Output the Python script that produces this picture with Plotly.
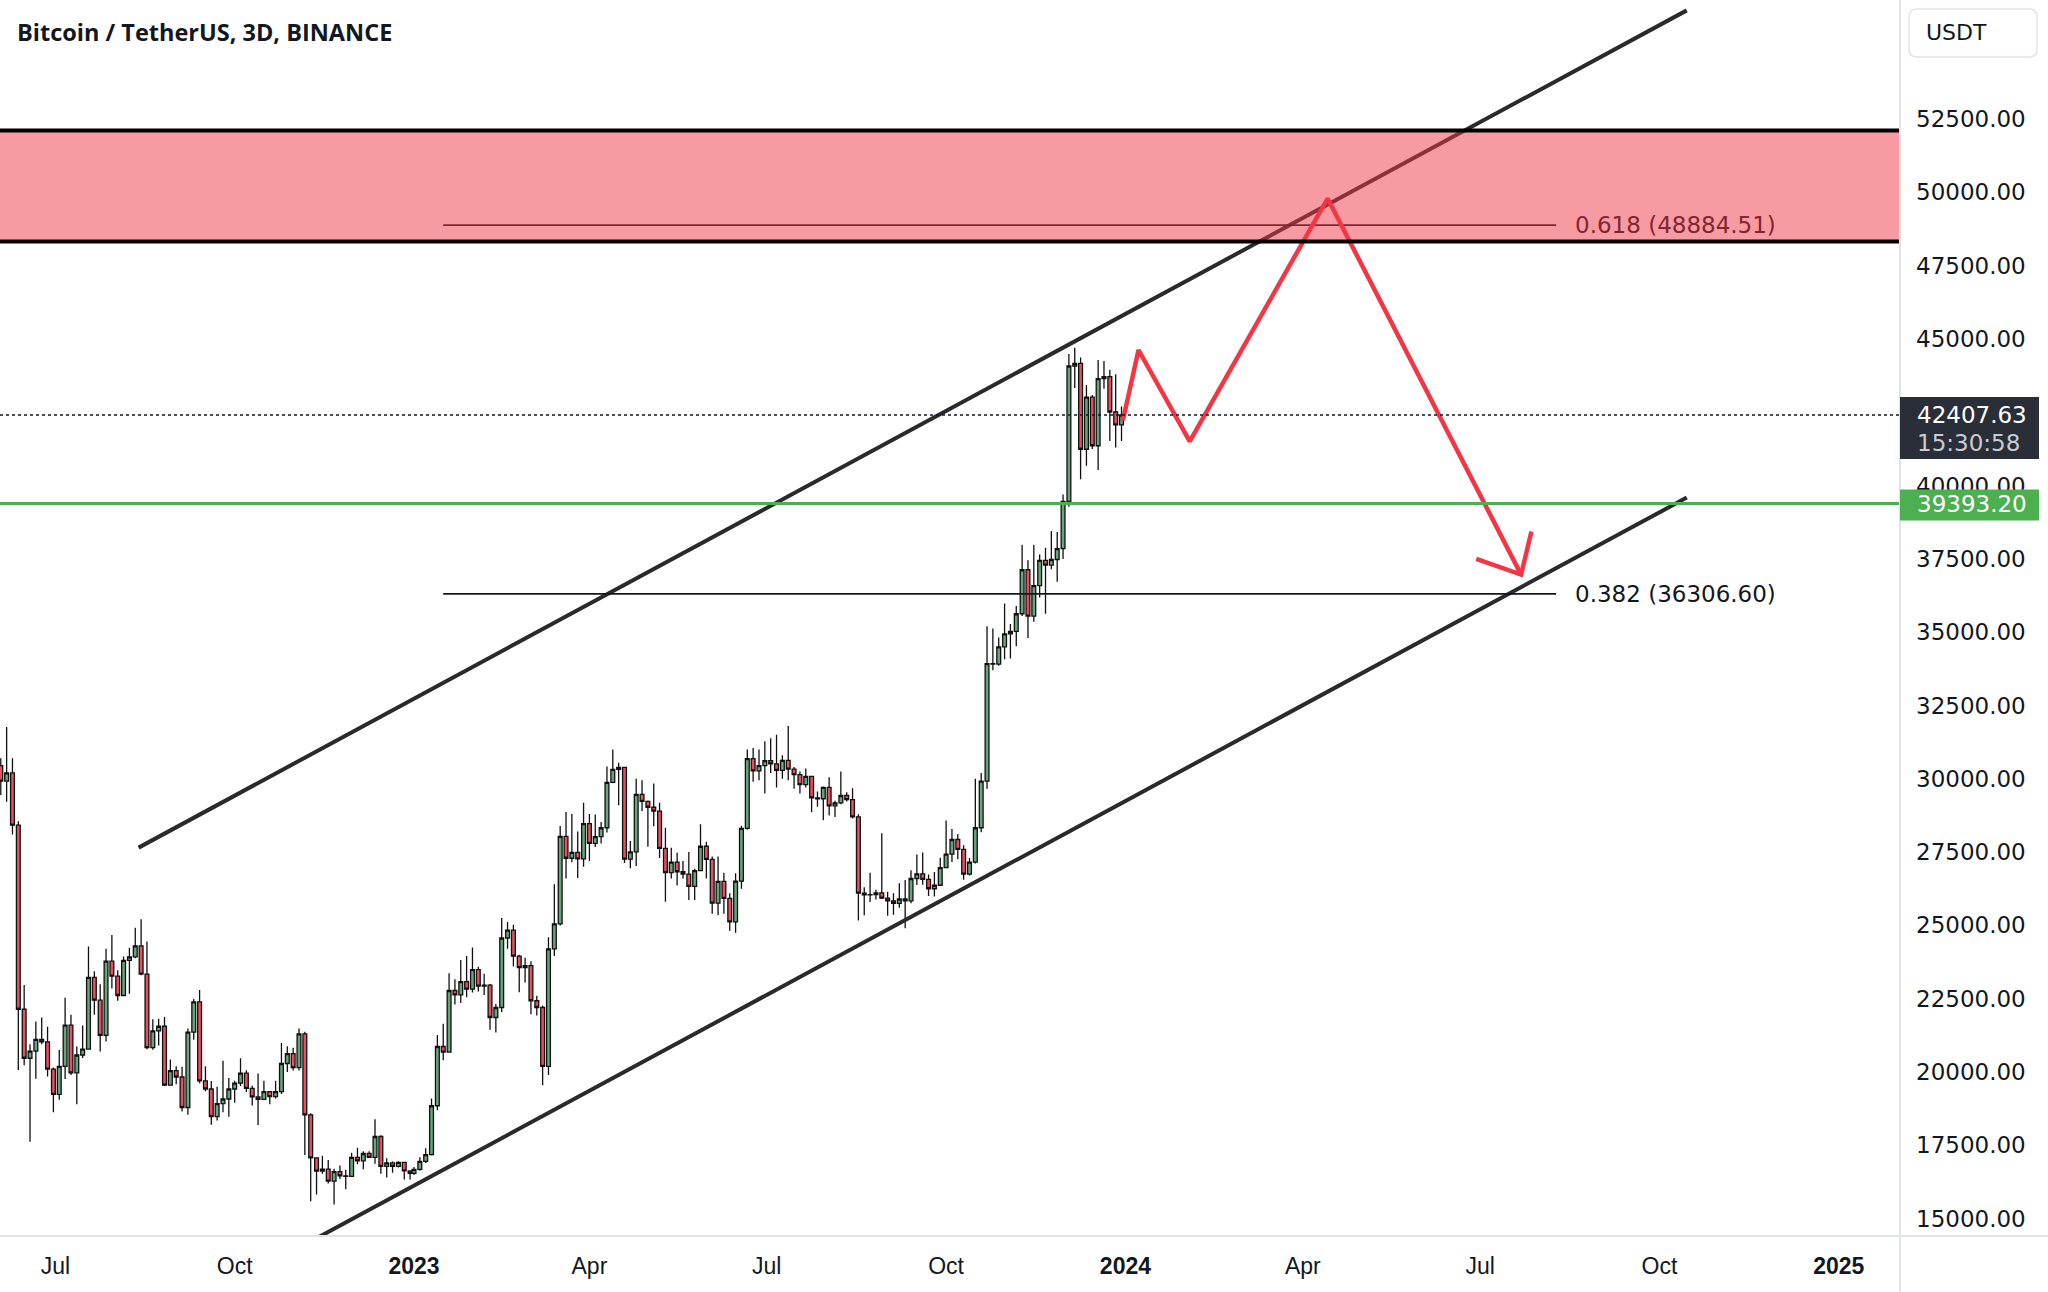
import pandas as pd
import plotly.graph_objects as go

# ---------------- data: BTCUSDT 3D candles (bars restart on Jan 1 each year) -------------
dates_2022 = pd.date_range("2022-05-31", "2022-12-30", freq="3D")
dates_2023 = pd.date_range("2023-01-01", "2023-12-30", freq="3D")

open_2022 = [31790,30450,29920,30200,28420,22140,20470,20710,21110,21030,20100,19240,20190,21600,19970,
             20580,20780,23230,22450,21250,23780,23270,22610,23810,23930,24300,23340,20830,21400,21560,
             19550,20050,19830,18790,21360,22390,19700,19420,18480,18920,19080,19420,19620,19960,19440,
             19150,19070,19330,19160,19330,20290,20630,20150,21300,18540,17070,16620,16690,16280,16600,
             16460,16440,17090,16970,17220,17090,17800,16780,16900,16780,16920,16630]
high_2022 = [32400,30700,31765,30700,28550,22970,20950,21720,21860,21540,20150,20750,22530,21950,20870,
             21590,24280,23440,22990,24200,24670,23470,23940,24240,24920,25210,24450,21800,21820,21880,
             20430,20200,20180,21480,22490,22800,20200,19690,19500,20380,19800,19700,20470,20060,19530,
             19950,19700,19350,19700,20990,20880,20830,21480,21370,18590,17090,17140,17000,16700,16810,
             16670,17250,17420,17300,17300,18390,17840,17060,16950,16960,16940,16640]
low_2022 = [29300,29450,29220,28100,20070,20230,17622,19770,20950,19850,18630,19050,19760,19900,18900,
            20480,20760,21950,20700,21040,22850,22430,22590,22670,23880,23300,20780,20760,20900,19520,
            19530,19580,18650,18540,21100,19620,19340,18200,18350,18630,18470,18950,19520,19320,18860,
            18190,19060,18900,19100,19250,20000,20050,20050,17170,15590,15820,16530,16200,15480,16350,
            16000,16430,16860,16680,17070,16870,16530,16400,16560,16740,16330,16330]
close_2022 = [30450,29920,30200,28420,22140,20470,20710,21110,21030,20100,19240,20190,21600,19970,20580,
              20780,23230,22450,21250,23780,23270,22610,23810,23930,24300,23340,20830,21400,21560,19550,
              20050,19830,18790,21360,22390,19700,19420,18480,18920,19080,19420,19620,19960,19440,19150,
              19070,19330,19160,19330,20290,20630,20150,21300,18540,17070,16620,16690,16280,16600,16460,
              16440,17090,16970,17220,17090,17800,16780,16900,16780,16920,16630,16540]

open_2023 = [16540,16680,16950,17180,18850,20870,20680,22780,22630,23080,
             22830,23490,22930,22960,21860,22200,24570,24840,23950,23560,
             23630,22430,22200,20190,24200,25050,28040,27290,27490,27270,
             28470,27800,28030,28330,29880,30320,30390,27260,27510,29470,
             29230,29030,28900,27630,26800,27160,26830,26750,26330,26870,
             27700,27250,25760,26500,25920,25120,26510,28310,30690,30270,
             30450,30620,30510,30290,30630,30330,30140,29800,30080,29350,
             29320,29710,29080,29180,29430,29290,28700,26100,26040,26050,
             26110,25930,25840,25750,25900,25840,26600,26760,26570,26250,
             26370,26970,27430,27930,27590,26750,27160,28330,29920,33930,
             33910,34500,34940,35030,35630,37130,35550,36590,37450,37290,
             37480,37850,39460,44080,44170,41240,43020,41360,43650,43720,
             42510,42070]
high_2023 = [16760,17090,17400,19100,21260,21650,23370,23160,23820,23960,
             24250,23590,23350,23000,22320,25250,25120,25020,24000,23900,
             23780,22600,22270,24600,26400,28390,28870,28800,28200,29180,
             28800,28780,28530,30420,31000,30550,30410,27880,30000,29950,
             29260,29840,29180,28330,27650,27480,27200,27500,26930,28450,
             27850,27350,27350,26800,26100,26780,28400,31000,31050,31000,
             31280,31380,31500,30800,31800,30400,30250,30350,30100,29570,
             29740,30050,29250,30250,29540,29680,28790,26300,26800,26220,
             28140,26150,26100,26440,26550,26880,27420,27490,26740,26820,
             27310,28580,28290,28120,27730,27300,30000,30200,35200,35130,
             34820,35980,35280,35890,37980,37450,37980,37650,37880,38450,
             38420,39700,44490,44700,44370,43430,43090,44280,44250,43950,
             43800,42700]
low_2023 = [16490,16630,16900,17150,18700,20400,20660,22300,22350,22550,
            22710,22750,22630,21440,21350,22050,24200,23600,22720,23050,
            21970,21930,19550,19900,23960,25000,26600,27150,26620,27000,
            27200,27670,27790,28170,29850,29100,27130,26950,27030,28900,
            27680,28380,27300,25810,26600,26360,26600,25870,25870,26860,
            26600,25400,25350,25400,24820,24750,26250,28260,29900,29950,
            29500,30200,29700,30000,29950,29660,29500,29700,28860,29050,
            28590,28750,28700,29130,29230,28650,25170,25350,25800,25880,
            25900,25330,25360,25600,24900,25760,26380,26390,26000,25990,
            26350,26960,27160,27260,26560,26700,27110,28180,29660,33700,
            33860,34080,34100,34520,35550,34800,35360,36180,35630,37150,
            36720,37500,39280,43330,40220,40680,41250,40530,43300,41520,
            41300,41520]
close_2023 = [16680,16950,17180,18850,20870,20680,22780,22630,23080,22830,
              23490,22930,22960,21860,22200,24570,24840,23950,23560,23630,
              22430,22200,20190,24200,25050,28040,27290,27490,27270,28470,
              27800,28030,28330,29880,30320,30390,27260,27510,29470,29230,
              29030,28900,27630,26800,27160,26830,26750,26330,26870,27700,
              27250,25760,26500,25920,25120,26510,28310,30690,30270,30450,
              30620,30510,30290,30630,30330,30140,29800,30080,29350,29320,
              29710,29080,29180,29430,29290,28700,26100,26040,26050,26110,
              25930,25840,25750,25900,25840,26600,26760,26570,26250,26370,
              26970,27430,27930,27590,26750,27160,28330,29920,33930,33910,
              34500,34940,35030,35630,37130,35550,36590,37450,37290,37480,
              37850,39460,44080,44170,41240,43020,41360,43650,43720,42510,
              42070,42407.63]

# drawings (date, price)
channel_upper_x = ["2022-08-12 17:00", "2024-10-15"]
channel_upper_y = [27653, 56208]
channel_lower_x = ["2022-11-12", "2024-10-15"]
channel_lower_y = [14330, 39591]
path_x = ["2023-12-30 17:00", "2024-01-07 17:00", "2024-02-03", "2024-04-13 18:00", "2024-07-22"]
path_y = [42220, 44625, 41507, 49792, 36964]
head_x = ["2024-06-29", "2024-07-22", "2024-07-27 07:00"]
head_y = [37497, 36964, 38435]
zone_low, zone_high = 48322, 52107
fib_levels = [48884.51, 36306.60]
fib_labels = ["0.618 (48884.51)", "0.382 (36306.60)"]
fib_x = ["2023-01-16", "2024-08-09"]
support_level = 39393.20
last_price = 42407.63
countdown = "15:30:58"

tick_dates = ["2022-07-01", "2022-10-01", "2023-01-01", "2023-04-01", "2023-07-01", "2023-10-01",
              "2024-01-01", "2024-04-01", "2024-07-01", "2024-10-01", "2025-01-01"]
tick_text = ["Jul", "Oct", "<b>2023</b>", "Apr", "Jul", "Oct", "<b>2024</b>", "Apr", "Jul", "Oct", "<b>2025</b>"]
price_ticks = list(range(15000, 52501, 2500))
price_text = [f"{v:.2f}" for v in price_ticks]

# ---------------- styles -------------------------------------------------------------
GREEN = "#68a57b"
RED = "#e4515f"
EDGE = "#111111"
AXIS_FONT = "DejaVu Sans"
DATE_FONT = "Liberation Sans"
W, H = 2048, 1292
ML, MR, MT, MB = 0, 148, 0, 56
PW, PH = W - ML - MR, H - MT - MB

x_all = list(dates_2022) + list(dates_2023)
o_all = open_2022 + open_2023
h_all = high_2022 + high_2023
l_all = low_2022 + low_2023
c_all = close_2022 + close_2023

base = pd.Timestamp("2023-01-01")
x_range = [base - pd.Timedelta(days=212.4), base + pd.Timedelta(days=762.4)]
y_range = [14407, 56562]

fig = go.Figure()
fig.add_trace(go.Candlestick(
    x=x_all, open=o_all, high=h_all, low=l_all, close=c_all,
    increasing=dict(fillcolor=GREEN, line=dict(color=EDGE, width=1.3)),
    decreasing=dict(fillcolor=RED, line=dict(color=EDGE, width=1.3)),
    whiskerwidth=0, hoverinfo="skip", showlegend=False))

# channel
for xs, ys in [(channel_upper_x, channel_upper_y), (channel_lower_x, channel_lower_y)]:
    fig.add_trace(go.Scatter(x=xs, y=ys, mode="lines", line=dict(color="#2a2a2a", width=4),
                             hoverinfo="skip", showlegend=False))
# fib lines
for lvl in fib_levels:
    fig.add_trace(go.Scatter(x=fib_x, y=[lvl, lvl], mode="lines", line=dict(color="#131722", width=1.7),
                             hoverinfo="skip", showlegend=False))
# projected path
fig.add_trace(go.Scatter(x=path_x, y=path_y, mode="lines", line=dict(color="#f23645", width=4.5),
                         hoverinfo="skip", showlegend=False))
fig.add_trace(go.Scatter(x=head_x, y=head_y, mode="lines", line=dict(color="#f23645", width=4.5),
                         hoverinfo="skip", showlegend=False))

shapes = []
# support line
shapes.append(dict(type="line", xref="paper", yref="y", x0=0, x1=1, y0=support_level, y1=support_level,
                   line=dict(color="#4caf50", width=3), layer="above"))
# last price dotted line
shapes.append(dict(type="line", xref="paper", yref="y", x0=0, x1=1, y0=last_price, y1=last_price,
                   line=dict(color="#131722", width=1.5, dash="dot"), layer="above"))
# resistance zone
shapes.append(dict(type="rect", xref="paper", yref="y", x0=0, x1=1, y0=zone_low, y1=zone_high,
                   fillcolor="rgba(242,54,69,0.5)", line=dict(width=0), layer="above"))
for yv in (zone_low, zone_high):
    shapes.append(dict(type="line", xref="paper", yref="y", x0=0, x1=1, y0=yv, y1=yv,
                       line=dict(color="#000000", width=4), layer="above"))
# panel separators
shapes.append(dict(type="line", xref="paper", yref="paper", x0=1, x1=1, y0=-MB / PH, y1=1,
                   line=dict(color="#e0e3eb", width=2), layer="above"))
shapes.append(dict(type="line", xref="paper", yref="paper", x0=0, x1=W / PW, y0=0, y1=0,
                   line=dict(color="#e0e3eb", width=2), layer="above"))

# price label boxes (pixel-sized, anchored to price)
box_x1 = 1 + 139 / PW
shapes.append(dict(type="rect", xref="paper", yref="y", ysizemode="pixel", yanchor=last_price,
                   x0=1, x1=box_x1, y0=-44, y1=18, fillcolor="#2a2e39", line=dict(width=0), layer="above"))
shapes.append(dict(type="rect", xref="paper", yref="y", ysizemode="pixel", yanchor=support_level,
                   x0=1, x1=box_x1, y0=-17, y1=14, fillcolor="#4caf50", line=dict(width=0), layer="above"))
# USDT box with rounded corners
ux0, ux1 = 1 + 9 / PW, 1 + 137 / PW
uy0, uy1 = 1 - 57 / PH, 1 - 9 / PH
rx, ry = 8 / PW, 8 / PH
usdt_path = (f"M {ux0+rx},{uy1} L {ux1-rx},{uy1} Q {ux1},{uy1} {ux1},{uy1-ry} L {ux1},{uy0+ry} "
             f"Q {ux1},{uy0} {ux1-rx},{uy0} L {ux0+rx},{uy0} Q {ux0},{uy0} {ux0},{uy0+ry} "
             f"L {ux0},{uy1-ry} Q {ux0},{uy1} {ux0+rx},{uy1} Z")
shapes.append(dict(type="path", xref="paper", yref="paper", path=usdt_path, fillcolor="white",
                   line=dict(color="#e0e3eb", width=1.5), layer="above"))

annotations = [
    dict(text="<b>Bitcoin / TetherUS, 3D, BINANCE</b>", xref="paper", yref="paper",
         x=15 / PW, y=1 - 32 / PH, xanchor="left", yanchor="middle", showarrow=False,
         font=dict(family="Open Sans", size=23.5, color="#131722")),
    dict(text="USDT", xref="paper", yref="paper", x=1 + 24 / PW, y=1 - 33 / PH, xanchor="left",
         yanchor="middle", showarrow=False, font=dict(family=AXIS_FONT, size=22, color="#131722")),
    dict(text=f"{last_price:.2f}", xref="paper", yref="y", x=1 + 15 / PW, y=last_price, xanchor="left",
         yanchor="middle", showarrow=False, font=dict(family=AXIS_FONT, size=23, color="#ffffff")),
    dict(text=countdown, xref="paper", yref="y", x=1 + 15 / PW, y=last_price, yshift=-28, xanchor="left",
         yanchor="middle", showarrow=False, font=dict(family=AXIS_FONT, size=23, color="#c9ccd4")),
    dict(text=f"{support_level:.2f}", xref="paper", yref="y", x=1 + 15 / PW, y=support_level, yshift=-1,
         xanchor="left", yanchor="middle", showarrow=False,
         font=dict(family=AXIS_FONT, size=23, color="#ffffff")),
    dict(text=fib_labels[0], xref="x", yref="y", x=fib_x[1], y=fib_levels[0], xshift=17, xanchor="left",
         yanchor="middle", showarrow=False, font=dict(family=AXIS_FONT, size=23, color="#82252f")),
    dict(text=fib_labels[1], xref="x", yref="y", x=fib_x[1], y=fib_levels[1], xshift=17, xanchor="left",
         yanchor="middle", showarrow=False, font=dict(family=AXIS_FONT, size=23, color="#131722")),
]

fig.update_layout(
    width=W, height=H, margin=dict(l=ML, r=MR, t=MT, b=MB, pad=0),
    paper_bgcolor="white", plot_bgcolor="white", showlegend=False,
    boxgap=0.02, boxgroupgap=0, hovermode=False,
    shapes=shapes, annotations=annotations,
    xaxis=dict(type="date", range=x_range, rangeslider=dict(visible=False), showgrid=False,
               zeroline=False, showline=False, ticks="", tickvals=tick_dates, ticktext=tick_text,
               tickfont=dict(family=DATE_FONT, size=23, color="#131722"), ticklabelstandoff=14,
               fixedrange=True),
    yaxis=dict(side="right", range=y_range, showgrid=False, zeroline=False, showline=False, ticks="",
               tickvals=price_ticks, ticktext=price_text,
               tickfont=dict(family=AXIS_FONT, size=23, color="#131722"), ticklabelstandoff=15,
               fixedrange=True),
)

fig.write_html("out.html")
